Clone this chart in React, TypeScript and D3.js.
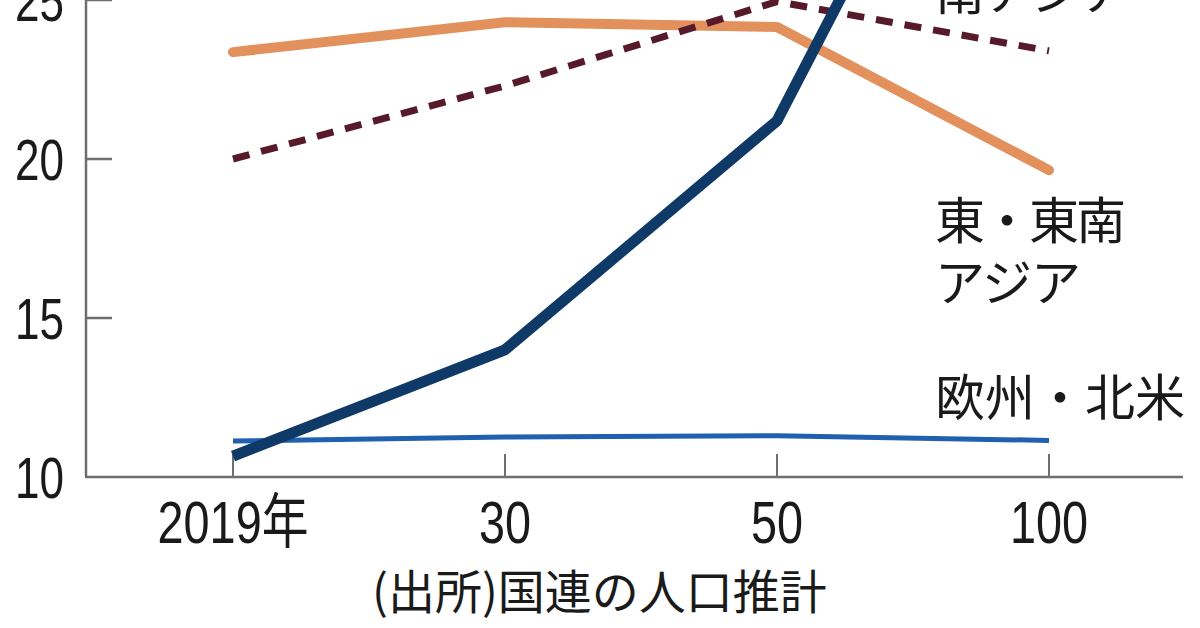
import React, { useEffect } from "react";
import * as d3 from "d3";

const categories = ["2019年", "30", "50", "100"];
const yTicks = [10, 15, 20, 25];
const seriesNames = ["欧州・北米", "東・東南アジア", "南アジア", "サハラ以南アフリカ"];
const europeNA = [11.13, 11.26, 11.3, 11.15];
const eastSEAsia = [23.36, 24.3, 24.15, 19.65];
const southAsia = [20.0, 22.3, 24.95, 23.4];
const africa = [10.66, 14.0, 21.2, 37.7];
const sourceText = "(出所)国連の人口推計";

const W = 1200;
const H = 628;
const NUM_FONT = "'Liberation Sans', 'Noto Sans CJK JP', sans-serif";
const JP_FONT = "'Noto Sans CJK JP', sans-serif";

export default function App() {
  useEffect(() => {
    document.body.style.margin = "0";
  }, []);

  const x = d3.scalePoint<string>().domain(categories).range([233, 1049]);
  const y = d3.scaleLinear().domain([10, 25]).range([477, 0]);

  const line = d3
    .line<number>()
    .x((_, i) => x(categories[i]) as number)
    .y((d) => y(d));

  const axisColor = "#6e6e6e";
  const x0 = 86;
  const xEnd = 1183;
  const textColor = "#1a1a1a";

  return (
    <svg width={W} height={H} style={{ display: "block", background: "#fff" }}>
      {/* axes */}
      <line x1={x0} x2={x0} y1={y(10)} y2={-10} stroke={axisColor} strokeWidth={2.5} />
      <line x1={x0 - 1} x2={xEnd} y1={y(10)} y2={y(10)} stroke={axisColor} strokeWidth={2.5} />
      {yTicks.filter((t) => t !== 10).map((t) => (
        <line key={"yt" + t} x1={x0} x2={x0 + 26} y1={y(t)} y2={y(t)} stroke={axisColor} strokeWidth={2.5} />
      ))}
      {categories.map((c) => (
        <line key={"xt" + c} x1={x(c)} x2={x(c)} y1={y(10)} y2={y(10) - 23} stroke={axisColor} strokeWidth={2} />
      ))}
      {yTicks.map((t) => (
        <text
          key={"yl" + t}
          transform={`translate(64,${y(t)}) scale(0.76,1)`}
          dy="0.36em"
          textAnchor="end"
          fontFamily={NUM_FONT}
          fontSize={58}
          fill={textColor}
        >
          {t}
        </text>
      ))}
      {categories.map((c) => (
        <text
          key={"xl" + c}
          transform={`translate(${x(c)},543) scale(0.78,1)`}
          textAnchor="middle"
          fontFamily={NUM_FONT}
          fontSize={60}
          fill={textColor}
        >
          {c}
        </text>
      ))}

      {/* series */}
      <path d={line(europeNA) || ""} fill="none" stroke="#1f60b0" strokeWidth={5} strokeLinejoin="round" />
      <path d={line(eastSEAsia) || ""} fill="none" stroke="#e2905c" strokeWidth={10} strokeLinejoin="round" strokeLinecap="round" />
      <path d={line(southAsia) || ""} fill="none" stroke="#561a2b" strokeWidth={7} strokeDasharray="17 12" />
      <path d={line(africa) || ""} fill="none" stroke="#0f3a68" strokeWidth={11} strokeLinejoin="round" />

      {/* labels */}
      <text x={935} y={-12} dominantBaseline="central" fontFamily={JP_FONT} fontSize={50} letterSpacing={-1} fill={textColor}>
        {seriesNames[2]}
      </text>
      <text x={935} y={217} dominantBaseline="central" fontFamily={JP_FONT} fontSize={50} letterSpacing={-3} fill={textColor}>
        東・東南
      </text>
      <text x={935} y={279} dominantBaseline="central" fontFamily={JP_FONT} fontSize={50} letterSpacing={-1} fill={textColor}>
        アジア
      </text>
      <text x={935} y={394} dominantBaseline="central" fontFamily={JP_FONT} fontSize={50} fill={textColor}>
        {seriesNames[0]}
      </text>
      <text x={372} y={588} dominantBaseline="central" fontFamily={JP_FONT} fontSize={47} fill={textColor}>
        {sourceText}
      </text>
    </svg>
  );
}
